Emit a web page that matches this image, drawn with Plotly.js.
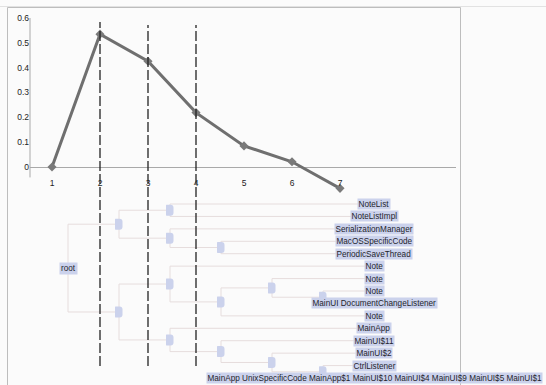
<!DOCTYPE html>
<html><head><meta charset="utf-8">
<script src="https://cdn.plot.ly/plotly-3.0.1.min.js"></script>
<style>html,body{margin:0;padding:0;background:#fbfbfb}</style>
</head><body><div id="chart" style="width:546px;height:385px"></div>
<script>
// ---- line chart data ----
const levels = [1, 2, 3, 4, 5, 6, 7];
const scores = [0, 0.535, 0.426, 0.219, 0.085, 0.021, -0.086];
const cutLevels = [2, 3, 4];
const yTicks = [0, 0.1, 0.2, 0.3, 0.4, 0.5, 0.6];
const yTickText = ['0', '0.1', '0.2', '0.3', '0.4', '0.5', '0.6'];

// ---- dendrogram data ----
const rootLabel = 'root';
const leafLabels = ['NoteList', 'NoteListImpl', 'SerializationManager', 'MacOSSpecificCode',
  'PeriodicSaveThread', 'Note', 'Note', 'Note', 'MainUI DocumentChangeListener', 'Note',
  'MainApp', 'MainUI$11', 'MainUI$2', 'CtrlListener',
  'MainApp UnixSpecificCode MainApp$1 MainUI$10 MainUI$4 MainUI$9 MainUI$5 MainUI$1'];
const leafParents = ['A1', 'A1', 'A2', 'A2b', 'A2b', 'B1', 'B1b1', 'B1b1b', 'B1b1b', 'B1b',
  'B2', 'B2b', 'B2b1', 'B2b1b', 'B2b1b'];
const nodeIds = ['root', 'A', 'A1', 'A2', 'A2b', 'B', 'B1', 'B1b', 'B1b1', 'B1b1b', 'B2', 'B2b', 'B2b1', 'B2b1b'];
const nodeParents = ['', 'root', 'A', 'A', 'A2', 'root', 'B', 'B1', 'B1b', 'B1b1', 'B', 'B2', 'B2b', 'B2b1'];

// ---- build tree layout ----
const parentOf = id => nodeParents[nodeIds.indexOf(id)];
const depthOf = id => { let d = 0, p = parentOf(id); while (p) { d++; p = parentOf(p); } return d; };
const nodeDepth = {}; nodeIds.forEach(id => nodeDepth[id] = depthOf(id));
const leafDepth = Math.max(...Object.values(nodeDepth)) + 1;
const kids = {}; nodeIds.forEach(id => kids[id] = []);
nodeIds.forEach((id, i) => { if (nodeParents[i]) kids[nodeParents[i]].push({ node: id }); });
leafLabels.forEach((l, i) => kids[leafParents[i]].push({ leaf: i }));
const nodeY = {};
function placeY(id) {
  const ys = kids[id].map(c => c.node !== undefined ? placeY(c.node) : c.leaf);
  nodeY[id] = (Math.min(...ys) + Math.max(...ys)) / 2;
  return nodeY[id];
}
placeY('root');
const segX = [], segY = [];
nodeIds.forEach(id => {
  const d = nodeDepth[id];
  const cys = kids[id].map(c => c.node !== undefined ? nodeY[c.node] : c.leaf);
  segX.push(d, d, null); segY.push(Math.min(...cys), Math.max(...cys), null);
  kids[id].forEach(c => {
    const cd = c.node !== undefined ? nodeDepth[c.node] : leafDepth;
    const cy = c.node !== undefined ? nodeY[c.node] : c.leaf;
    segX.push(d, cd, null); segY.push(cy, cy, null);
  });
});

const W = 546, H = 385;
const LABEL_FONT = { family: 'Liberation Sans, Arial, sans-serif', size: 8.2, color: '#1f1f2c' };
const NODE_COLOR = '#cbd2ec';

const traces = [
  { x: segX, y: segY, xaxis: 'x2', yaxis: 'y2', mode: 'lines', hoverinfo: 'skip',
    line: { color: '#e6dddd', width: 1 }, showlegend: false },
  { x: levels, y: scores, mode: 'lines+markers', cliponaxis: false, showlegend: false,
    line: { color: '#6f6f6f', width: 3 },
    marker: { symbol: 'diamond', size: 7, color: '#7a7a7a' } }
];

const shapes = [];
// frame
shapes.push({ type: 'line', xref: 'paper', yref: 'paper', x0: 0, x1: 1, y0: 1 - 6.5 / H, y1: 1 - 6.5 / H,
  line: { color: '#e2e2e2', width: 1 }, layer: 'below' });
shapes.push({ type: 'rect', xref: 'paper', yref: 'paper', x0: 7.5 / W, x1: 460.5 / W, y0: -0.05, y1: 1 - 7.5 / H,
  line: { color: '#bdbdbd', width: 1 }, layer: 'below' });
// y axis line
shapes.push({ type: 'line', xref: 'x domain', yref: 'y', x0: 0, x1: 0, y0: -0.042, y1: 0.6,
  line: { color: '#a9a9a9', width: 1 }, layer: 'below' });
// cut lines
cutLevels.forEach((c, i) => shapes.push({ type: 'line', xref: 'x', yref: 'paper', x0: c, x1: c,
  y0: 1 - 366 / H, y1: 1 - (i === 0 ? 22 : 25) / H,
  line: { color: '#222222', width: 1.3, dash: '10px,3px' }, layer: 'above' }));
// node markers
const nodePath = 'M -3.5,-5.5 L 0.5,-5.5 Q 3.5,-5.5 3.5,-2.5 L 3.5,2.5 Q 3.5,5.5 0.5,5.5 L -3.5,5.5 Q -4,5.5 -4,4.5 L -4,-4.5 Q -4,-5.5 -3.5,-5.5 Z';
nodeIds.forEach(id => { if (id === 'root') return;
  shapes.push({ type: 'path', xref: 'x2', yref: 'y2', xsizemode: 'pixel', ysizemode: 'pixel',
    xanchor: nodeDepth[id], yanchor: nodeY[id], path: nodePath,
    fillcolor: NODE_COLOR, line: { width: 0 }, layer: 'above' });
});

const annotations = [];
annotations.push({ xref: 'x2', yref: 'y2', x: 0, y: nodeY['root'], text: rootLabel, showarrow: false,
  bgcolor: NODE_COLOR, borderpad: 1, font: LABEL_FONT });
leafLabels.forEach((l, i) => annotations.push({ xref: 'x2', yref: 'y2', x: leafDepth, y: i, text: l,
  showarrow: false, bgcolor: NODE_COLOR, borderpad: 0.5, font: LABEL_FONT }));

const layout = {
  width: W, height: H, margin: { l: 0, r: 0, t: 0, b: 0 },
  paper_bgcolor: '#fbfbfb', plot_bgcolor: 'rgba(0,0,0,0)', showlegend: false,
  xaxis: { domain: [30 / W, 456 / W], range: [0.5417, 9.4167], anchor: 'free', position: 1 - 176 / H,
    tickvals: levels, ticktext: levels.map(String), showgrid: false, zeroline: false, showline: false,
    ticks: '', tickfont: { family: 'Liberation Sans, Arial, sans-serif', size: 8.5, color: '#222' } },
  yaxis: { domain: [0, 1], range: [-(H - 167) / 248.3, 167 / 248.3], anchor: 'x',
    tickvals: yTicks, ticktext: yTickText, showgrid: false, showline: false,
    zeroline: true, zerolinecolor: '#a9a9a9', zerolinewidth: 1, ticks: '',
    tickfont: { family: 'Liberation Sans, Arial, sans-serif', size: 8.5, color: '#222' } },
  xaxis2: { domain: [0, 1], anchor: 'y2', range: [-68 / 51, (W - 68) / 51], visible: false },
  yaxis2: { domain: [0, 1], anchor: 'x2', range: [(H - 204) / 12.43, -204 / 12.43], visible: false },
  shapes: shapes, annotations: annotations
};

Plotly.newPlot('chart', traces, layout, { displayModeBar: false, staticPlot: true });
</script></body></html>
